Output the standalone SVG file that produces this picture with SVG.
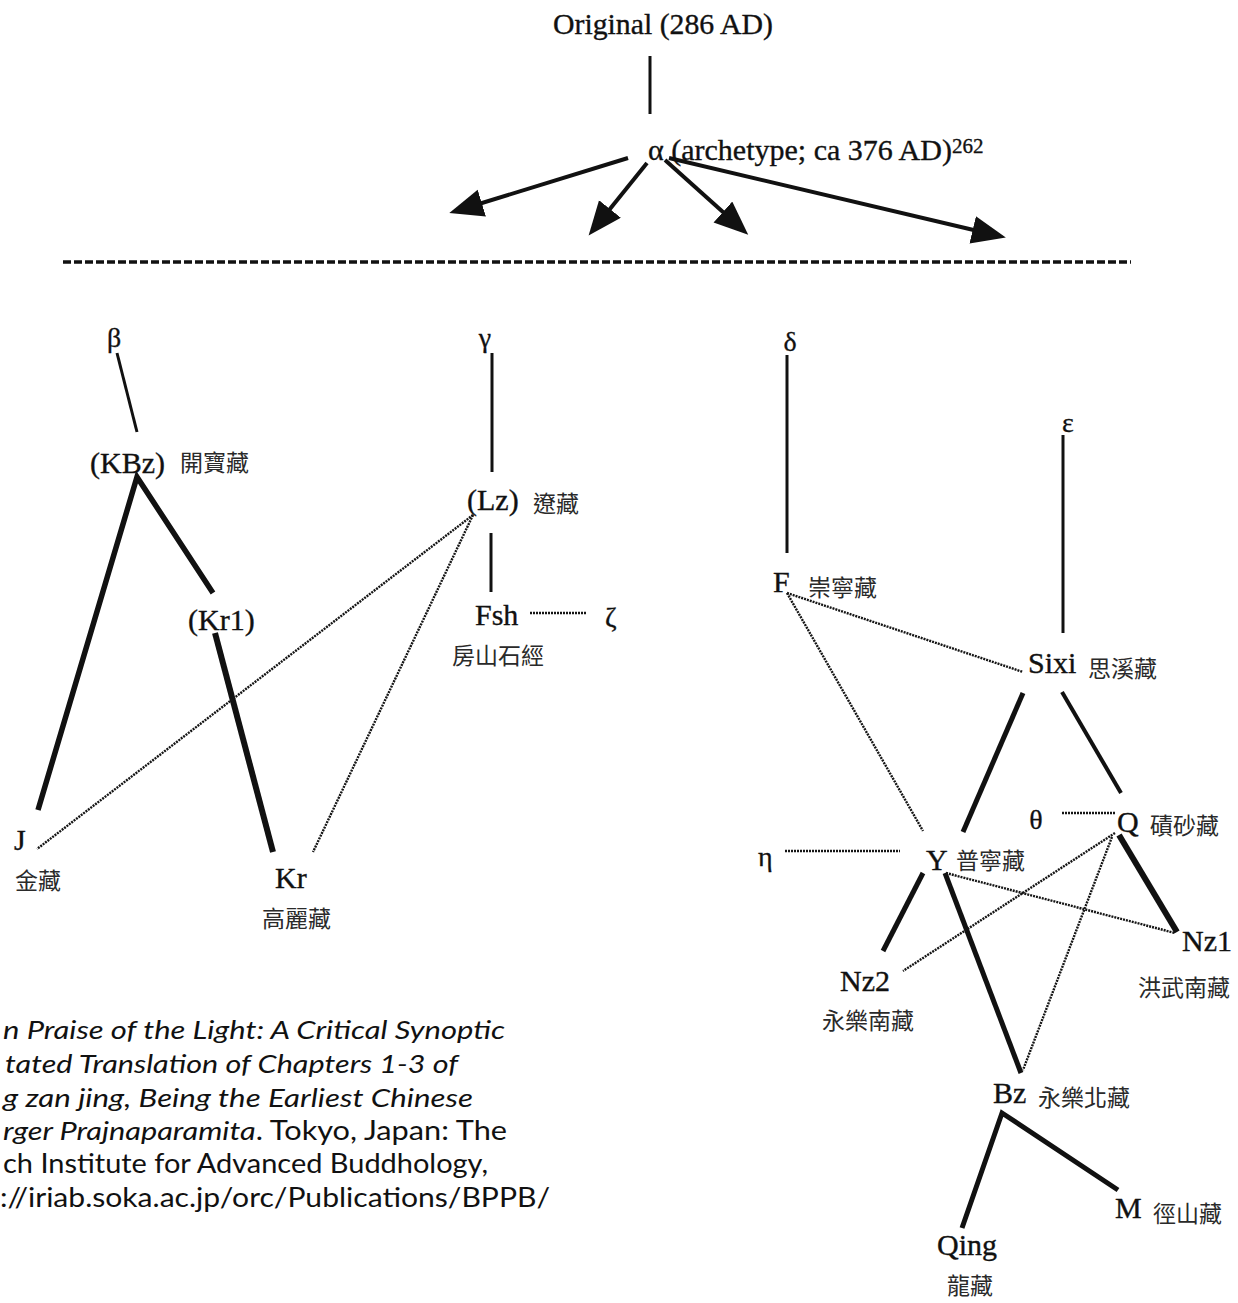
<svg xmlns="http://www.w3.org/2000/svg" width="1238" height="1303" viewBox="0 0 1238 1303">
  <style>
    .lbl { font-family: "Liberation Serif", "Times New Roman", serif; font-size: 30px; fill: #111; stroke: #111; stroke-width: 0.35; }
    .gr { font-family: "Liberation Serif", "Times New Roman", serif; font-size: 28px; fill: #111; stroke: #111; stroke-width: 0.3; }
    .cjk { font-family: "Noto Sans CJK TC", "Noto Sans CJK SC", sans-serif; font-size: 23px; fill: #2a2a2a; }
    .cap { font-family: Lato, "Open Sans", "Liberation Sans", sans-serif; font-size: 26px; fill: #111; }
    .it { font-style: italic; }
    .solid { stroke: #111; fill: none; stroke-linecap: butt; }
    .dot { stroke: #151515; fill: none; stroke-width: 2.4; stroke-dasharray: 2 1; }
  </style>
  <defs>
    <marker id="head" markerUnits="userSpaceOnUse" markerWidth="36" markerHeight="30" refX="27" refY="14" orient="auto">
      <path d="M0,0 L34,14 L0,28 z" fill="#111"/>
    </marker>
  </defs>
  <rect width="1238" height="1303" fill="#fff"/>

  <!-- connectors -->
  <g id="connectors">
    <!-- original to archetype -->
    <line class="solid" x1="650" y1="56" x2="650" y2="114" stroke-width="3"/>
    <!-- archetype fans out to the four recensions -->
    <line class="solid" x1="628" y1="158" x2="456" y2="211" stroke-width="4" marker-end="url(#head)"/>
    <line class="solid" x1="647" y1="163" x2="593" y2="230" stroke-width="4" marker-end="url(#head)"/>
    <line class="solid" x1="665" y1="160" x2="743" y2="230" stroke-width="4" marker-end="url(#head)"/>
    <line class="solid" x1="669" y1="158" x2="999" y2="236" stroke-width="4" marker-end="url(#head)"/>
    <!-- divider -->
    <line x1="63" y1="262" x2="1131" y2="262" stroke="#111" stroke-width="3.5" stroke-dasharray="8 3"/>

    <!-- beta branch -->
    <line class="solid" x1="117" y1="353" x2="137" y2="432" stroke-width="3"/>
    <polyline class="solid" points="38,810 137,477 213,593" stroke-width="5.5" stroke-linejoin="miter"/>
    <line class="solid" x1="215" y1="633" x2="273" y2="852" stroke-width="6"/>

    <!-- gamma branch -->
    <line class="solid" x1="492" y1="353" x2="492" y2="472" stroke-width="3"/>
    <line class="solid" x1="491" y1="533" x2="491" y2="592" stroke-width="3"/>
    <line class="dot" x1="530" y1="613" x2="587" y2="613"/>
    <line class="dot" x1="473" y1="515" x2="37" y2="849"/>
    <line class="dot" x1="473" y1="515" x2="313" y2="852"/>

    <!-- delta / epsilon branches -->
    <line class="solid" x1="787" y1="355" x2="787" y2="553" stroke-width="3"/>
    <line class="solid" x1="1063" y1="435" x2="1063" y2="633" stroke-width="3"/>
    <line class="dot" x1="787" y1="593" x2="1023" y2="672"/>
    <line class="dot" x1="787" y1="593" x2="923" y2="831"/>
    <line class="solid" x1="1023" y1="693" x2="963" y2="832" stroke-width="5"/>
    <line class="solid" x1="1062" y1="692" x2="1121" y2="793" stroke-width="4"/>
    <line class="dot" x1="1062" y1="813" x2="1115" y2="813"/>
    <line class="dot" x1="785" y1="851" x2="900" y2="851"/>
    <line class="solid" x1="923" y1="873" x2="883" y2="951" stroke-width="5"/>
    <line class="solid" x1="945" y1="873" x2="1021" y2="1073" stroke-width="5"/>
    <line class="dot" x1="946" y1="873" x2="1175" y2="933"/>
    <line class="solid" x1="1119" y1="835" x2="1177" y2="932" stroke-width="6"/>
    <line class="dot" x1="1115" y1="833" x2="903" y2="971"/>
    <line class="dot" x1="1112" y1="837" x2="1023" y2="1070"/>
    <polyline class="solid" points="962,1228 1002,1113 1118,1190" stroke-width="5" stroke-linejoin="miter"/>
  </g>

  <!-- top of the stemma -->
  <g id="original">
    <text class="lbl" x="663" y="34" font-size="29" text-anchor="middle" textLength="220" lengthAdjust="spacingAndGlyphs">Original (286 AD)</text>
  </g>
  <g id="alpha">
    <text class="lbl" x="648" y="160" font-size="29">α (archetype; ca 376 AD)<tspan font-size="21" dy="-7">262</tspan></text>
  </g>

  <!-- beta family -->
  <g id="beta"><text class="gr" x="114" y="347" text-anchor="middle">β</text></g>
  <g id="kbz">
    <text class="lbl" x="90" y="473">(KBz)</text>
    <text class="cjk" x="180" y="471">開寶藏</text>
  </g>
  <g id="kr1"><text class="lbl" x="188" y="630">(Kr1)</text></g>
  <g id="j">
    <text class="lbl" x="14" y="850">J</text>
    <text class="cjk" x="15" y="889">金藏</text>
  </g>
  <g id="kr">
    <text class="lbl" x="275" y="888">Kr</text>
    <text class="cjk" x="262" y="927">高麗藏</text>
  </g>

  <!-- gamma family -->
  <g id="gamma"><text class="gr" x="485" y="347" text-anchor="middle">γ</text></g>
  <g id="lz">
    <text class="lbl" x="467" y="510">(Lz)</text>
    <text class="cjk" x="533" y="512">遼藏</text>
  </g>
  <g id="fsh">
    <text class="lbl" x="475" y="625">Fsh</text>
    <text class="cjk" x="452" y="664" font-size="24">房山石經</text>
  </g>
  <g id="zeta"><text class="gr" x="605" y="627">ζ</text></g>

  <!-- delta and epsilon families -->
  <g id="delta"><text class="gr" x="790" y="351" text-anchor="middle">δ</text></g>
  <g id="f">
    <text class="lbl" x="773" y="592">F</text>
    <text class="cjk" x="808" y="596">崇寧藏</text>
  </g>
  <g id="epsilon"><text class="gr" x="1068" y="432" text-anchor="middle">ε</text></g>
  <g id="sixi">
    <text class="lbl" x="1028" y="673">Sixi</text>
    <text class="cjk" x="1088" y="677">思溪藏</text>
  </g>
  <g id="theta"><text class="gr" x="1036" y="829" text-anchor="middle">θ</text></g>
  <g id="q">
    <text class="lbl" x="1117" y="832">Q</text>
    <text class="cjk" x="1150" y="834">磧砂藏</text>
  </g>
  <g id="eta"><text class="gr" x="758" y="866" font-size="30">η</text></g>
  <g id="y">
    <text class="lbl" x="926" y="870">Y</text>
    <text class="cjk" x="956" y="869">普寧藏</text>
  </g>
  <g id="nz1">
    <text class="lbl" x="1182" y="951">Nz1</text>
    <text class="cjk" x="1138" y="996">洪武南藏</text>
  </g>
  <g id="nz2">
    <text class="lbl" x="840" y="991">Nz2</text>
    <text class="cjk" x="822" y="1029">永樂南藏</text>
  </g>
  <g id="bz">
    <text class="lbl" x="993" y="1103">Bz</text>
    <text class="cjk" x="1038" y="1106">永樂北藏</text>
  </g>
  <g id="m">
    <text class="lbl" x="1115" y="1218">M</text>
    <text class="cjk" x="1153" y="1222">徑山藏</text>
  </g>
  <g id="qing">
    <text class="lbl" x="937" y="1255">Qing</text>
    <text class="cjk" x="947" y="1294" font-size="22">龍藏</text>
  </g>

  <!-- source note -->
  <g id="source">
    <text class="cap it" x="3" y="1039" textLength="502" lengthAdjust="spacingAndGlyphs">n Praise of the Light: A Critical Synoptic</text>
    <text class="cap it" x="5" y="1073" textLength="453" lengthAdjust="spacingAndGlyphs">tated Translation of Chapters 1-3 of</text>
    <text class="cap it" x="3" y="1107" textLength="470" lengthAdjust="spacingAndGlyphs">g zan jing, Being the Earliest Chinese</text>
    <text class="cap" x="3" y="1140" textLength="504" lengthAdjust="spacingAndGlyphs"><tspan class="it">rger Prajnaparamita</tspan>. Tokyo, Japan: The</text>
    <text class="cap" x="3" y="1173" textLength="485" lengthAdjust="spacingAndGlyphs">ch Institute for Advanced Buddhology,</text>
    <text class="cap" x="0" y="1207" textLength="550" lengthAdjust="spacingAndGlyphs">://iriab.soka.ac.jp/orc/Publications/BPPB/</text>
  </g>
</svg>
